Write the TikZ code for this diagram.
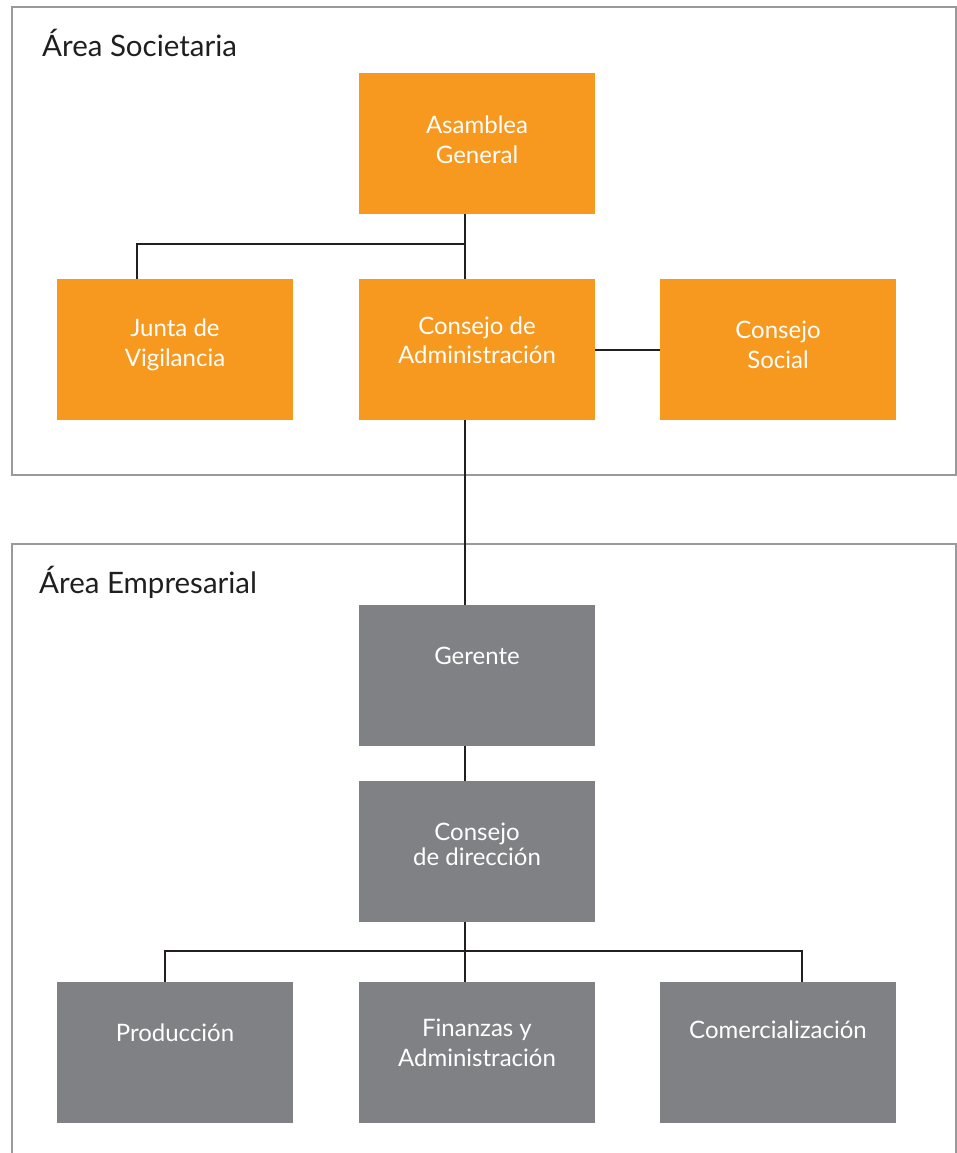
\documentclass[tikz,border=0pt]{standalone}
\usepackage{fontspec}
\setmainfont{Lato}
\usetikzlibrary{calc}
\definecolor{socorange}{HTML}{F7981F}
\definecolor{empgray}{HTML}{808185}
\definecolor{framegray}{HTML}{9A9A9C}
\definecolor{linedark}{HTML}{231F20}
\tikzset{
  orgbox/.style={rectangle, inner sep=0pt, minimum width=236pt, minimum height=141pt, anchor=north west},
  socbox/.style={orgbox, fill=socorange},
  empbox/.style={orgbox, fill=empgray},
  boxtext/.style={text=white, align=center, font=\fontsize{24}{30}\selectfont, inner sep=0pt},
  areatitle/.style={anchor=base west, inner sep=0pt, text=black!88, font=\fontsize{29.5}{34}\selectfont},
  frame/.style={draw=framegray, line width=1.6pt},
  link/.style={draw=linedark, line width=1.8pt}
}
\begin{document}
\begin{tikzpicture}[x=1pt, y=-1pt]
  \useasboundingbox (0,0) rectangle (957,1153);

  % Area frames
  \draw[frame] (12,7) rectangle (956,475);
  \draw[frame] (12,1153) -- (12,544) -- (956,544) -- (956,1153);
  \node[areatitle] (tsoc) at (42,57) {Área Societaria};
  \node[areatitle] (temp) at (39,593) {Área Empresarial};

  % Societary area boxes
  \node[socbox] (ag) at (359,73) {};
  \node[socbox] (jv) at (57,279) {};
  \node[socbox] (ca) at (359,279) {};
  \node[socbox] (cs) at (660,279) {};

  % Business area boxes
  \node[empbox] (ge) at (359,605) {};
  \node[empbox] (cd) at (359,781) {};
  \node[empbox] (pr) at (57,982) {};
  \node[empbox] (fa) at (359,982) {};
  \node[empbox] (co) at (660,982) {};

  % Box labels
  \node[boxtext] (lag) at (477,140) {Asamblea\\General};
  \node[boxtext] (ljv) at (175,345) {Junta de\\Vigilancia};
  \node[boxtext, font=\fontsize{24}{29}\selectfont] (lca) at (477,340) {Consejo de\\Administración};
  \node[boxtext] (lcs) at (778,345) {Consejo\\Social};
  \node[boxtext] (lge) at (477,656) {Gerente};
  \node[boxtext, font=\fontsize{24}{25}\selectfont] (lcd) at (477,844) {Consejo\\de dirección};
  \node[boxtext] (lpr) at (175,1033) {Producción};
  \node[boxtext] (lfa) at (477,1043) {Finanzas y\\Administración};
  \node[boxtext] (lco) at (778,1030) {Comercialización};

  % Junction points of the connectors
  \coordinate (jtop) at (465,244);
  \coordinate (jleft) at (137,244);
  \coordinate (jbot) at (465,951);
  \coordinate (jbl) at (165,951);
  \coordinate (jbr) at (802,951);

  % Connectors
  \draw[link] (ag.south -| jtop) -- (ca.north -| jtop);
  \draw[link] (jtop) -- (jleft) -- (jv.north -| jleft);
  \draw[link] (ca.east) -- (cs.west);
  \draw[link] (ca.south -| jtop) -- (ge.north -| jtop);
  \draw[link] (ge.south -| jtop) -- (cd.north -| jtop);
  \draw[link] (cd.south -| jbot) -- (fa.north -| jbot);
  \draw[link] (pr.north -| jbl) -- (jbl) -- (jbr) -- (co.north -| jbr);
\end{tikzpicture}
\end{document}
